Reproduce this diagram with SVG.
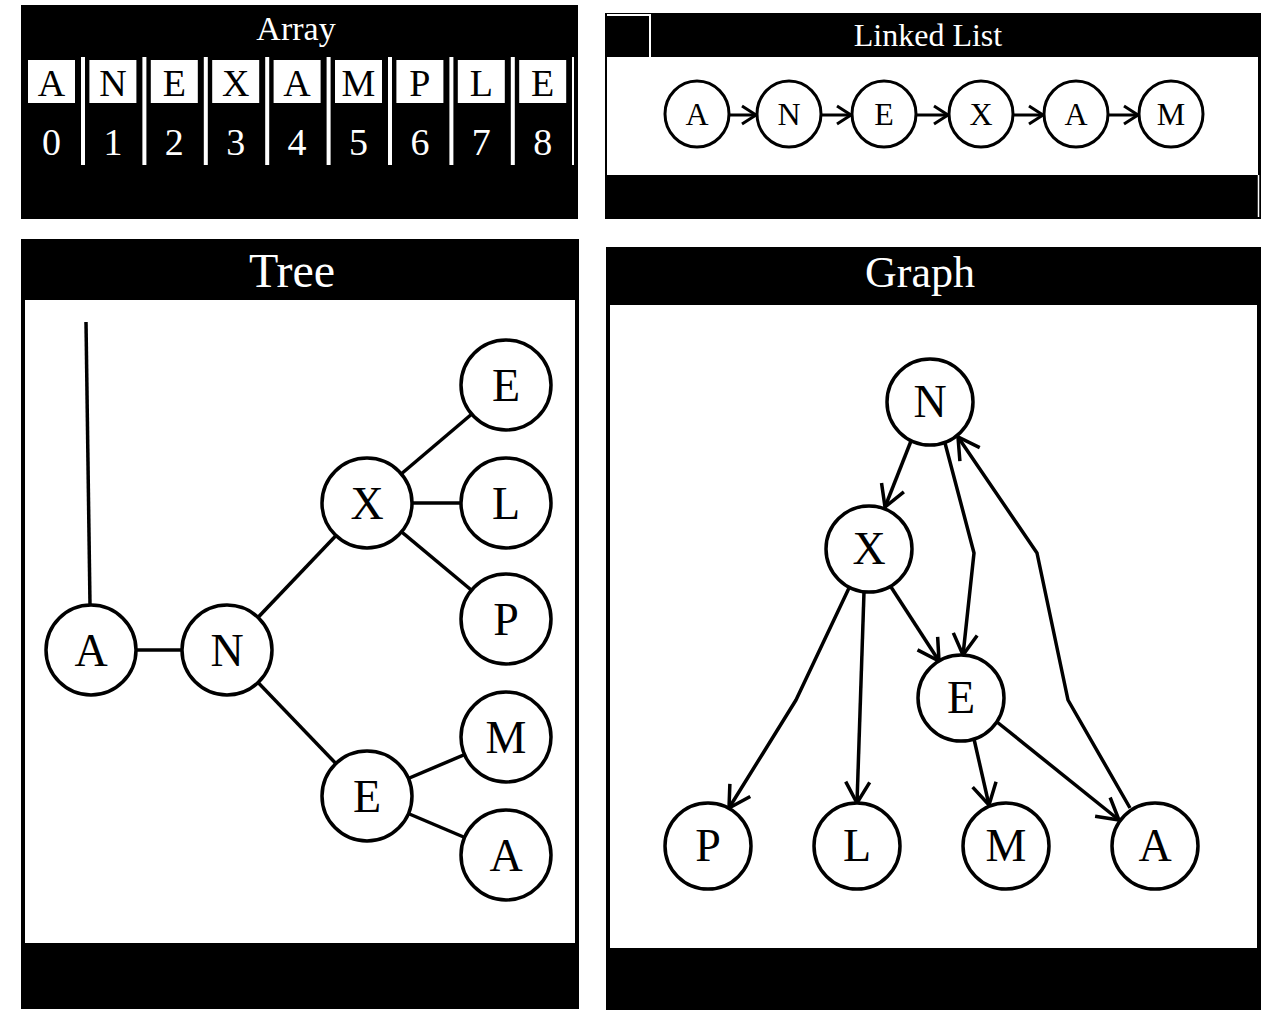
<svg xmlns="http://www.w3.org/2000/svg" width="1281" height="1014" viewBox="0 0 1281 1014">
<defs>
<style>
.panel{fill:#000}
.body{fill:#fff}
.title{font-family:"Liberation Serif",serif;fill:#fff;text-anchor:middle}
.cell{fill:#fff}
.bar{fill:#fff}
.cl{font-family:"Liberation Serif",serif;font-size:38px;fill:#000;text-anchor:middle}
.ci{font-family:"Liberation Serif",serif;font-size:38px;fill:#fff;text-anchor:middle}
.nd{fill:#fff;stroke:#000;stroke-width:3.5}
.ndl{fill:#fff;stroke:#000;stroke-width:3}
.lbl{font-family:"Liberation Serif",serif;font-size:46px;fill:#000;text-anchor:middle}
.lbls{font-family:"Liberation Serif",serif;font-size:32px;fill:#000;text-anchor:middle}
.edge{fill:none;stroke:#000;stroke-width:3.5;stroke-linejoin:round}
.ledge{fill:none;stroke:#000;stroke-width:3}
</style>
<marker id="arr" markerUnits="userSpaceOnUse" markerWidth="30" markerHeight="30" refX="0" refY="0" orient="auto" viewBox="-25 -15 30 30" overflow="visible">
<path d="M-21,-12 L0,0 L-21,12" fill="none" stroke="#000" stroke-width="3.5"/>
</marker>
<marker id="arrs" markerUnits="userSpaceOnUse" markerWidth="20" markerHeight="20" refX="0" refY="0" orient="auto" viewBox="-15 -10 20 20" overflow="visible">
<path d="M-14,-9 L0,0 L-14,9" fill="none" stroke="#000" stroke-width="3"/>
</marker>
</defs>
<rect width="1281" height="1014" fill="#fff"/>

<!-- Array panel -->
<g id="array-panel">
<rect class="panel" x="21" y="5" width="557" height="214"/>
<text class="title" x="296" y="40" font-size="34">Array</text>
<g id="cell-0"><rect class="cell" x="28" y="60" width="47" height="43"/><text class="cl" x="51.5" y="96">A</text><text class="ci" x="51.5" y="155">0</text></g>
<g id="cell-1"><rect class="cell" x="89.4" y="60" width="47" height="43"/><text class="cl" x="112.9" y="96">N</text><text class="ci" x="112.9" y="155">1</text></g>
<g id="cell-2"><rect class="cell" x="150.8" y="60" width="47" height="43"/><text class="cl" x="174.3" y="96">E</text><text class="ci" x="174.3" y="155">2</text></g>
<g id="cell-3"><rect class="cell" x="212.2" y="60" width="47" height="43"/><text class="cl" x="235.7" y="96">X</text><text class="ci" x="235.7" y="155">3</text></g>
<g id="cell-4"><rect class="cell" x="273.6" y="60" width="47" height="43"/><text class="cl" x="297.1" y="96">A</text><text class="ci" x="297.1" y="155">4</text></g>
<g id="cell-5"><rect class="cell" x="335" y="60" width="47" height="43"/><text class="cl" x="358.5" y="96">M</text><text class="ci" x="358.5" y="155">5</text></g>
<g id="cell-6"><rect class="cell" x="396.4" y="60" width="47" height="43"/><text class="cl" x="419.9" y="96">P</text><text class="ci" x="419.9" y="155">6</text></g>
<g id="cell-7"><rect class="cell" x="457.8" y="60" width="47" height="43"/><text class="cl" x="481.3" y="96">L</text><text class="ci" x="481.3" y="155">7</text></g>
<g id="cell-8"><rect class="cell" x="519.2" y="60" width="47" height="43"/><text class="cl" x="542.7" y="96">E</text><text class="ci" x="542.7" y="155">8</text></g>
<rect class="bar" x="81" y="57" width="4" height="108"/>
<rect class="bar" x="142.4" y="57" width="4" height="108"/>
<rect class="bar" x="203.8" y="57" width="4" height="108"/>
<rect class="bar" x="265.2" y="57" width="4" height="108"/>
<rect class="bar" x="326.6" y="57" width="4" height="108"/>
<rect class="bar" x="388" y="57" width="4" height="108"/>
<rect class="bar" x="449.4" y="57" width="4" height="108"/>
<rect class="bar" x="510.8" y="57" width="4" height="108"/>
<rect class="bar" x="572" y="57" width="2" height="108"/>
</g>

<!-- Linked list panel -->
<g id="linked-list-panel">
<rect class="panel" x="605" y="13" width="656" height="206"/>
<rect class="body" x="607" y="57" width="651" height="118"/>
<path d="M607,15 H650 V57" fill="none" stroke="#fff" stroke-width="2"/>
<line x1="1258.5" y1="175" x2="1258.5" y2="217" stroke="#fff" stroke-width="1.5"/>
<text class="title" x="928" y="46" font-size="32">Linked List</text>
</g>
<g id="ll-connectors">
<line class="ledge" x1="729" y1="115" x2="756" y2="115" marker-end="url(#arrs)"/>
<line class="ledge" x1="821" y1="115" x2="851" y2="115" marker-end="url(#arrs)"/>
<line class="ledge" x1="916" y1="115" x2="948" y2="115" marker-end="url(#arrs)"/>
<line class="ledge" x1="1013" y1="115" x2="1043" y2="115" marker-end="url(#arrs)"/>
<line class="ledge" x1="1108" y1="115" x2="1138" y2="115" marker-end="url(#arrs)"/>
</g>
<g id="ll-A1"><ellipse class="ndl" cx="697" cy="114" rx="32" ry="33"/><text class="lbls" x="697" y="125">A</text></g>
<g id="ll-N"><ellipse class="ndl" cx="789" cy="114" rx="32" ry="33"/><text class="lbls" x="789" y="125">N</text></g>
<g id="ll-E"><ellipse class="ndl" cx="884" cy="114" rx="32" ry="33"/><text class="lbls" x="884" y="125">E</text></g>
<g id="ll-X"><ellipse class="ndl" cx="981" cy="114" rx="32" ry="33"/><text class="lbls" x="981" y="125">X</text></g>
<g id="ll-A2"><ellipse class="ndl" cx="1076" cy="114" rx="32" ry="33"/><text class="lbls" x="1076" y="125">A</text></g>
<g id="ll-M"><ellipse class="ndl" cx="1171" cy="114" rx="32" ry="33"/><text class="lbls" x="1171" y="125">M</text></g>

<!-- Tree panel -->
<g id="tree-panel">
<rect class="panel" x="21" y="239" width="558" height="770"/>
<rect class="body" x="25" y="300" width="550" height="643"/>
<text class="title" x="292" y="287" font-size="48">Tree</text>
</g>
<g id="tree-connectors">
<line class="edge" x1="90" y1="605" x2="86" y2="322"/>
<line class="edge" x1="91" y1="650" x2="227" y2="650"/>
<line class="edge" x1="227" y1="650" x2="367" y2="503"/>
<line class="edge" x1="227" y1="650" x2="367" y2="796"/>
<line class="edge" x1="367" y1="503" x2="506" y2="385"/>
<line class="edge" x1="367" y1="503" x2="506" y2="503"/>
<line class="edge" x1="367" y1="503" x2="506" y2="619"/>
<line class="edge" x1="367" y1="796" x2="506" y2="737"/>
<line class="edge" x1="367" y1="796" x2="506" y2="855"/>
</g>
<g id="t-A"><circle class="nd" cx="91" cy="650" r="45"/><text class="lbl" x="91" y="666">A</text></g>
<g id="t-N"><circle class="nd" cx="227" cy="650" r="45"/><text class="lbl" x="227" y="666">N</text></g>
<g id="t-X"><circle class="nd" cx="367" cy="503" r="45"/><text class="lbl" x="367" y="519">X</text></g>
<g id="t-E"><circle class="nd" cx="367" cy="796" r="45"/><text class="lbl" x="367" y="812">E</text></g>
<g id="t-E2"><circle class="nd" cx="506" cy="385" r="45"/><text class="lbl" x="506" y="401">E</text></g>
<g id="t-L"><circle class="nd" cx="506" cy="503" r="45"/><text class="lbl" x="506" y="519">L</text></g>
<g id="t-P"><circle class="nd" cx="506" cy="619" r="45"/><text class="lbl" x="506" y="635">P</text></g>
<g id="t-M"><circle class="nd" cx="506" cy="737" r="45"/><text class="lbl" x="506" y="753">M</text></g>
<g id="t-A2"><circle class="nd" cx="506" cy="855" r="45"/><text class="lbl" x="506" y="871">A</text></g>

<!-- Graph panel -->
<g id="graph-panel">
<rect class="panel" x="606" y="247" width="655" height="763"/>
<rect class="body" x="610" y="305" width="647" height="643"/>
<text class="title" x="920" y="287" font-size="44">Graph</text>
</g>
<g id="graph-connectors">
<polyline class="edge" points="911,441 885,507" marker-end="url(#arr)"/>
<polyline class="edge" points="945,443 974,553 963,655" marker-end="url(#arr)"/>
<polyline class="edge" points="891,587 939,661" marker-end="url(#arr)"/>
<polyline class="edge" points="849,588 796,700 729,808" marker-end="url(#arr)"/>
<polyline class="edge" points="864,592 857,803" marker-end="url(#arr)"/>
<polyline class="edge" points="974,739 989,805" marker-end="url(#arr)"/>
<polyline class="edge" points="997,722 1119,820" marker-end="url(#arr)"/>
<polyline class="edge" points="1130,808 1068,700 1037,553 958,437" marker-end="url(#arr)"/>
</g>
<g id="g-N"><circle class="nd" cx="930" cy="402" r="43"/><text class="lbl" x="930" y="417">N</text></g>
<g id="g-X"><circle class="nd" cx="869" cy="549" r="43"/><text class="lbl" x="869" y="564">X</text></g>
<g id="g-E"><circle class="nd" cx="961" cy="698" r="43"/><text class="lbl" x="961" y="713">E</text></g>
<g id="g-P"><circle class="nd" cx="708" cy="846" r="43"/><text class="lbl" x="708" y="861">P</text></g>
<g id="g-L"><circle class="nd" cx="857" cy="846" r="43"/><text class="lbl" x="857" y="861">L</text></g>
<g id="g-M"><circle class="nd" cx="1006" cy="846" r="43"/><text class="lbl" x="1006" y="861">M</text></g>
<g id="g-A"><circle class="nd" cx="1155" cy="846" r="43"/><text class="lbl" x="1155" y="861">A</text></g>
</svg>
